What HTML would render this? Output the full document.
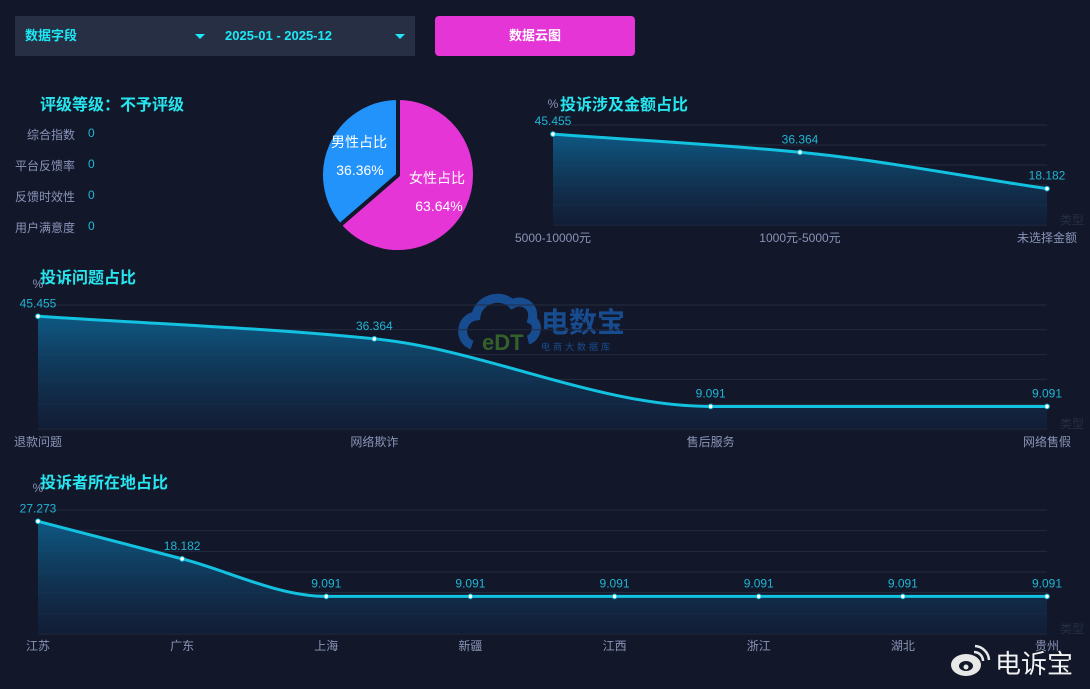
<!DOCTYPE html>
<html><head><meta charset="utf-8">
<style>
html,body{margin:0;padding:0;background:#121829;}
body{width:1090px;height:689px;position:relative;overflow:hidden;font-family:"Liberation Sans","Noto Sans CJK SC",sans-serif;}
.abs{position:absolute;}
.sel{left:15px;top:16px;width:400px;height:40px;background:#272f45;}
.cy{color:#1de9f6;font-weight:bold;font-size:13px;line-height:16px;}
.arr{width:0;height:0;border-left:5px solid transparent;border-right:5px solid transparent;border-top:5px solid #1de9f6;}
.btn{left:435px;top:16px;width:200px;height:40px;background:#e535d6;border-radius:4px;color:#fff;font-weight:bold;font-size:13px;text-align:center;line-height:40px;}
.tt{color:#27e5ee;font-weight:bold;font-size:16px;}
.lab{color:#8a93b8;font-size:12px;text-align:right;width:75px;left:0;}
.val{color:#1fb8d8;font-size:12px;left:88px;}
</style></head>
<body>
<div class="abs sel"></div>
<div class="abs cy" style="left:25px;top:28px">数据字段</div>
<div class="abs arr" style="left:195px;top:34px"></div>
<div class="abs cy" style="left:225px;top:28px">2025-01 - 2025-12</div>
<div class="abs arr" style="left:395px;top:34px"></div>
<div class="abs btn">数据云图</div>

<div class="abs tt" style="left:40px;top:91px">评级等级：不予评级</div>
<div class="abs lab" style="top:126px">综合指数</div>
<div class="abs val" style="top:126px">0</div>
<div class="abs lab" style="top:157px">平台反馈率</div>
<div class="abs val" style="top:157px">0</div>
<div class="abs lab" style="top:188px">反馈时效性</div>
<div class="abs val" style="top:188px">0</div>
<div class="abs lab" style="top:219px">用户满意度</div>
<div class="abs val" style="top:219px">0</div>

<div class="abs tt" style="left:560px;top:91px">投诉涉及金额占比</div>
<div class="abs tt" style="left:40px;top:264px">投诉问题占比</div>
<div class="abs tt" style="left:40px;top:469px">投诉者所在地占比</div>

<svg id="svg" class="abs" style="left:0;top:0" width="1090" height="689" xmlns="http://www.w3.org/2000/svg" font-family="Liberation Sans, Noto Sans CJK SC, sans-serif">
<defs>
<linearGradient id="ag" x1="0" y1="0" x2="0" y2="1">
<stop offset="0" stop-color="#0e5c88" stop-opacity="0.95"/>
<stop offset="1" stop-color="#12203d" stop-opacity="0.6"/>
</linearGradient>
</defs>
<g opacity="0.85">
<path d="M472,345 C458,340 460,318 476,316 C478,300 500,292 512,304 C522,298 536,306 532,320 C540,324 536,338 528,340" fill="none" stroke="#1a56a3" stroke-width="9"/>
<text x="482" y="350" font-size="22" font-weight="bold" fill="#3b6e2a">eDT</text>
<text x="541" y="332" font-size="28" font-weight="bold" fill="#1a56a3">电数宝</text>
<text x="541" y="350" font-size="9" fill="#1a56a3" letter-spacing="3">电商大数据库</text>
</g>
<g id="g"></g>
<g>
<ellipse cx="966" cy="665" rx="15" ry="11" fill="#e8e8e8"/>
<ellipse cx="966" cy="666" rx="7" ry="5" fill="#121829"/>
<circle cx="966" cy="667" r="2.5" fill="#e8e8e8"/>
<path d="M974,652 A9,9 0 0 1 983,661" fill="none" stroke="#e8e8e8" stroke-width="2.5"/>
<path d="M975,646 A15,15 0 0 1 989,660" fill="none" stroke="#e8e8e8" stroke-width="2.5"/>
<text x="995" y="673" font-size="26" fill="#f2f2f2">电诉宝</text>
</g>
</svg>
<script>
const pieLabels=['女性占比','男性占比'];
const pieValues=[63.64,36.36];

const amtCats=['5000-10000元','1000元-5000元','未选择金额'];
const amtVals=[45.455,36.364,18.182];
const issueCats=['退款问题','网络欺诈','售后服务','网络售假'];
const issueVals=[45.455,36.364,9.091,9.091];
const regionCats=['江苏','广东','上海','新疆','江西','浙江','湖北','贵州'];
const regionVals=[27.273,18.182,9.091,9.091,9.091,9.091,9.091,9.091];

const NS='http://www.w3.org/2000/svg';
const G=document.getElementById('g');
function mk(tag,attrs,parent){const e=document.createElementNS(NS,tag);for(const k in attrs)e.setAttribute(k,attrs[k]);(parent||G).appendChild(e);return e;}

(function(){
  const cx=398,cy=175,r=77,colors=['#e535d6','#2293fb'];
  const total=pieValues.reduce((a,b)=>a+b,0);
  let a0=-Math.PI/2;
  const lp=[[437,183,439,211],[359,147,360,175]];
  pieValues.forEach((v,i)=>{
    const a1=a0+v/total*2*Math.PI;
    const x0=cx+r*Math.cos(a0),y0=cy+r*Math.sin(a0),x1=cx+r*Math.cos(a1),y1=cy+r*Math.sin(a1);
    const p=mk('path',{d:`M${cx},${cy}L${x0},${y0}A${r},${r} 0 ${a1-a0>Math.PI?1:0} 1 ${x1},${y1}Z`,fill:colors[i],stroke:'#121829','stroke-width':4,'stroke-linejoin':'round'});
    
    
    const t=mk('text',{x:lp[i][0],y:lp[i][1],'text-anchor':'middle','font-size':14,fill:'#fff'});
    t.textContent=pieLabels[i];
    
    
    const t2=mk('text',{x:lp[i][2],y:lp[i][3],'text-anchor':'middle','font-size':14,fill:'#fff'});
    t2.textContent=pieValues[i].toFixed(2)+'%';
    
    
    a0=a1;
  });
})();

function monotone(pts){
  const n=pts.length;if(n<2)return '';
  const dx=[],m=[],s=[];
  for(let i=0;i<n-1;i++){dx[i]=pts[i+1][0]-pts[i][0];s[i]=(pts[i+1][1]-pts[i][1])/dx[i];}
  m[0]=s[0];m[n-1]=s[n-2];
  for(let i=1;i<n-1;i++){m[i]=(s[i-1]*s[i]<=0)?0:(3*(dx[i-1]+dx[i]))/((2*dx[i]+dx[i-1])/s[i-1]+(dx[i]+2*dx[i-1])/s[i]);}
  let d=`M${pts[0][0]},${pts[0][1]}`;
  for(let i=0;i<n-1;i++){const h=dx[i]/3;d+=`C${pts[i][0]+h},${pts[i][1]+m[i]*h} ${pts[i+1][0]-h},${pts[i+1][1]-m[i+1]*h} ${pts[i+1][0]},${pts[i+1][1]}`;}
  return d;
}

function lineChart(name,cats,vals,x0,x1,yTop,yBot,max,steps,labelY,pctX,pctY){
  const g=mk('g',{});
  
  
  const xs=i=>x0+(x1-x0)*i/(cats.length-1);
  const ys=v=>yBot-(yBot-yTop)*v/max;
  for(let k=0;k<=steps;k++){
    const y=yBot-(yBot-yTop)*k/steps;
    const l=mk('line',{x1:x0,x2:x1,y1:y,y2:y,stroke:'#222b40','stroke-width':1},g);
    
    
  }
  const pts=vals.map((v,i)=>[xs(i),ys(v)]);
  const d=monotone(pts);
  const area=mk('path',{d:d+`L${xs(vals.length-1)},${yBot}L${x0},${yBot}Z`,fill:'url(#ag)'},g);
  
  
  const line=mk('path',{d:d,fill:'none',stroke:'#13c2e0','stroke-width':3},g);
  
  
  pts.forEach((p,i)=>{
    const c=mk('circle',{cx:p[0],cy:p[1],r:2.3,fill:'#fff',stroke:'#13c2e0','stroke-width':1},g);
    
    
    const t=mk('text',{x:p[0],y:p[1]-9,'text-anchor':'middle','font-size':12,fill:'#20b5d6'},g);
    t.textContent=vals[i];
    
    
    const xl=mk('text',{x:p[0],y:labelY,'text-anchor':'middle','font-size':12,fill:'#8a93b8'},g);
    xl.textContent=cats[i];
    
    
  });
  const pc=mk('text',{x:pctX,y:pctY,'text-anchor':'middle','font-size':12,fill:'#8a93b8'},g);
  pc.textContent='%';
  
  
  const ty=mk('text',{x:x1+25,y:yBot-1,'text-anchor':'middle','font-size':12,fill:'#262e44'},g);
  ty.textContent='类型';
  
  
}
lineChart('amount-line-chart',amtCats,amtVals,553,1047,125,225,50,5,242,553,108);
lineChart('issue-line-chart',issueCats,issueVals,38,1047,305,429,50,5,446,38,288);
lineChart('region-line-chart',regionCats,regionVals,38,1047,510,634,30,6,650,38,492);
</script>
</body></html>
